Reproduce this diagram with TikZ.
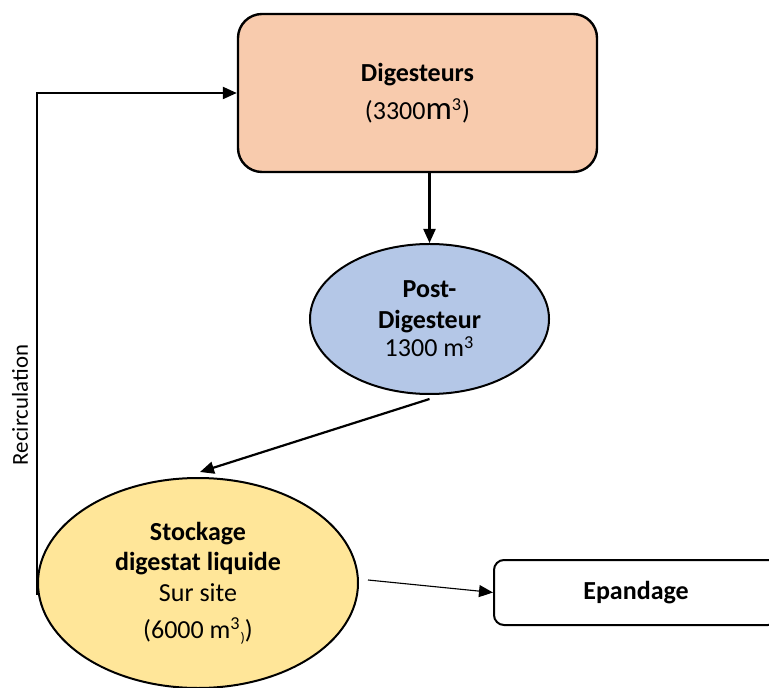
\documentclass[tikz,border=0pt]{standalone}
\usepackage{fontspec}
\setmainfont{Carlito}
\usetikzlibrary{shapes.geometric,arrows.meta}
\definecolor{peach}{HTML}{F8CBAD}
\definecolor{postblue}{HTML}{B4C7E7}
\definecolor{stockyellow}{HTML}{FFE699}

\begin{document}
\begin{tikzpicture}[x=0.5pt, y=-0.5pt,
    every node/.style={font=\fontsize{13}{15.3}\selectfont, align=center},
    flow/.style={line width=1.1pt, -{Triangle[length=7pt,width=6pt]}},
    thinflow/.style={line width=0.55pt, -{Triangle[length=7pt,width=6pt]}}]
  \useasboundingbox (0,0) rectangle (769,688);
  % tanks
  \node[draw, line width=1.2pt, rounded corners=12pt, fill=peach,
        minimum width=179.5pt, minimum height=79pt] (dig) at (417.5,93)
        {\textbf{Digesteurs}\\[4pt](3300{\fontsize{16.5}{16.5}\selectfont m}\textsuperscript{3})};
  \node[draw, line width=1pt, ellipse, inner sep=0pt, fill=postblue,
        minimum width=119.5pt, minimum height=75pt] (post) at (429.5,319)
        {\textbf{Post-}\\\textbf{Digesteur}\\[-1pt]1300 m\textsuperscript{3}};
  \node[draw, line width=1pt, ellipse, inner sep=0pt, fill=stockyellow,
        minimum width=160pt, minimum height=105pt] (stock) at (198,583)
        {\textbf{Stockage}\\\textbf{digestat liquide}\\Sur site\\[3pt](6000 m\textsuperscript{3}\raisebox{-2pt}{\scriptsize)})};
  \node[draw, line width=1pt, rounded corners=5pt,
        minimum width=142pt, minimum height=32.5pt] (epand) at (636,592.5)
        {\textbf{Epandage}};
  \node[rotate=90, font=\fontsize{11.4}{13}\selectfont] (recirc) at (20,405) {Recirculation};
  % flows
  \draw[flow] (post.north |- dig.south) -- (post.north);
  \draw[flow] ([yshift=-2pt]post.south) -- ([xshift=1pt,yshift=2.5pt]stock.north);
  \draw[thinflow] ([xshift=4.5pt,yshift=1.5pt]stock.east) -- (epand.west);
  \draw[flow] ([yshift=-6pt]stock.west) |- (dig.west);
\end{tikzpicture}
\end{document}
